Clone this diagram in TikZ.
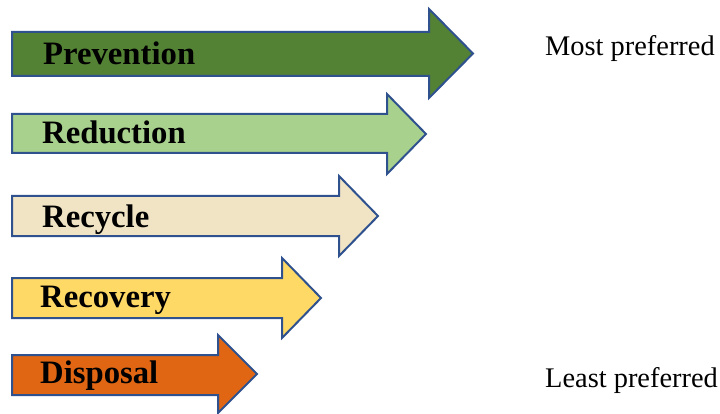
\documentclass[tikz,border=0pt]{standalone}
\usepackage{fontspec}
\setmainfont{Liberation Serif}

\definecolor{outlineblue}{HTML}{2F528F}
\definecolor{prevgreen}{HTML}{548235}
\definecolor{redgreen}{HTML}{A9D18E}
\definecolor{recytan}{HTML}{F0E4C4}
\definecolor{recoyellow}{HTML}{FFD966}
\definecolor{dispoorange}{HTML}{E06614}

\tikzset{
  stepshape/.style={draw=outlineblue, line width=2pt, line join=miter},
  steplabel/.style={anchor=base west, inner sep=0pt, font=\fontsize{32.7}{36}\selectfont\bfseries},
  ranklabel/.style={anchor=base west, inner sep=0pt, font=\fontsize{28.4}{32}\selectfont}
}

\begin{document}
\begin{tikzpicture}[x=1pt,y=-1pt]

\useasboundingbox (0,0) rectangle (720,414);

% name / body top / body bottom / head top / head bottom / head x / tip x / colour / text x / baseline / text
\foreach \nm/\yt/\yb/\ht/\hb/\hx/\tx/\col/\lx/\bl/\txt in {
    prevention/32/76/9/98/429/473/prevgreen/43/65/Prevention,
    reduction/114/153/94/174/387/426/redgreen/42/144/Reduction,
    recycle/196/236/176/256/339/378/recytan/42/228/Recycle,
    recovery/278/318/258/338/282/321/recoyellow/40/307/Recovery,
    disposal/355/395/335/413/218/257/dispoorange/40/383/Disposal}
{
    \draw [stepshape, fill=\col] (12,\yt) -- (\hx,\yt) -- (\hx,\ht)
        -- (\tx,{(\ht+\hb)/2}) -- (\hx,\hb) -- (\hx,\yb) -- (12,\yb) -- cycle;
    \node [steplabel] (\nm) at (\lx,\bl) {\txt};
}

\node [ranklabel] (most) at (545,56) {Most preferred};
\node [ranklabel] (least) at (545,387) {Least preferred};

\end{tikzpicture}
\end{document}
